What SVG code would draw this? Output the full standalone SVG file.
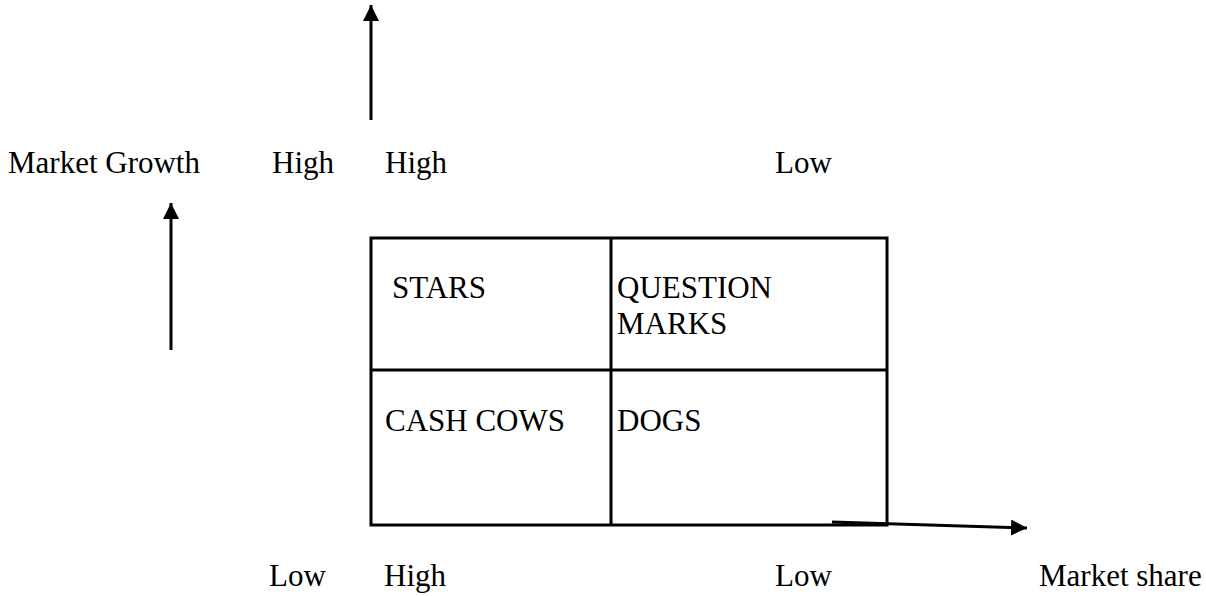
<svg xmlns="http://www.w3.org/2000/svg" width="1206" height="596" viewBox="0 0 1206 596">
<style>
text{font-family:"Liberation Serif","Times New Roman",serif;font-size:31px;fill:#000}
.ln{stroke:#000;stroke-width:3;fill:none}
</style>
<defs>
<marker id="ah" markerUnits="userSpaceOnUse" markerWidth="18" markerHeight="18" refX="16" refY="8" orient="auto">
<path d="M0,0 L16,8 L0,16 Z" fill="#000"/>
</marker>
</defs>
<rect width="1206" height="596" fill="#fff"/>
<g id="grid">
<rect class="ln" x="371" y="238" width="516" height="287"/>
<line class="ln" x1="611" y1="238" x2="611" y2="525"/>
<line class="ln" x1="371" y1="370" x2="887" y2="370"/>
</g>
<g id="stars"><text x="392" y="298">STARS</text></g>
<g id="question"><text x="617" y="298">QUESTION</text><text x="617" y="334">MARKS</text></g>
<g id="cashcows"><text x="385" y="431">CASH COWS</text></g>
<g id="dogs"><text x="617" y="431">DOGS</text></g>
<g id="labels">
<text x="8" y="173">Market Growth</text>
<text x="272" y="173">High</text>
<text x="385" y="173">High</text>
<text x="775" y="173">Low</text>
<text x="269" y="586">Low</text>
<text x="384" y="586">High</text>
<text x="775" y="586">Low</text>
<text x="1039" y="586">Market share</text>
</g>
<g id="connectors">
<line class="ln" x1="371" y1="120" x2="371" y2="5" marker-end="url(#ah)"/>
<line class="ln" x1="171" y1="350" x2="171" y2="203" marker-end="url(#ah)"/>
<line class="ln" x1="832" y1="522" x2="1027" y2="528" marker-end="url(#ah)"/>
</g>
</svg>
